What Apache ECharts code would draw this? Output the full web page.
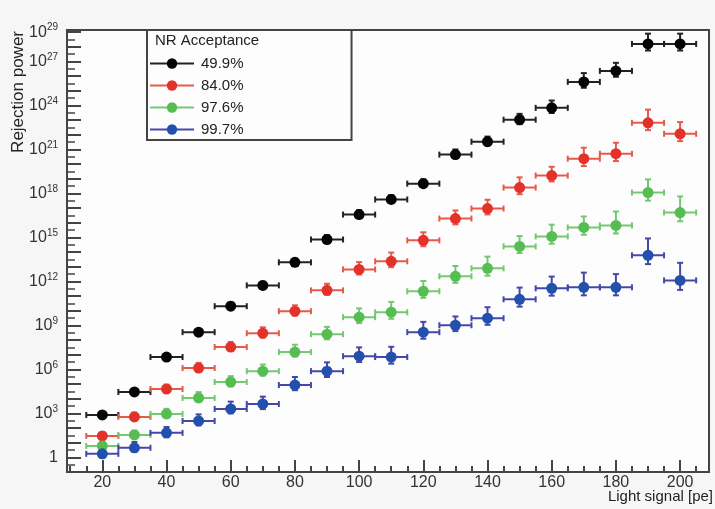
<!DOCTYPE html>
<html>
<head>
<meta charset="utf-8">
<script src="https://cdn.jsdelivr.net/npm/echarts@6/dist/echarts.min.js"></script>
<style>
  html, body { margin: 0; padding: 0; background: #f6f6f6; }
  #main { width: 715px; height: 509px; }
</style>
</head>
<body>
<div id="main"></div>
<script>
// light signal bin centres [pe]
var lightSignal = [20, 30, 40, 50, 60, 70, 80, 90, 100, 110, 120, 130, 140, 150, 160, 170, 180, 190, 200];
var seriesNames = ['49.9%', '84.0%', '97.6%', '99.7%'];

// rejection power (log10 of the value)
var rej499 = [2.89, 4.46, 6.84, 8.54, 10.31, 11.73, 13.30, 14.86, 16.56, 17.59, 18.67, 20.65, 21.53, 23.03, 23.84, 25.61, 26.36, 28.20, 28.20];
var rej840 = [1.46, 2.76, 4.66, 6.09, 7.52, 8.47, 9.97, 11.39, 12.82, 13.37, 14.80, 16.29, 16.97, 18.40, 19.22, 20.37, 20.71, 22.82, 22.07];
var rej976 = [0.78, 1.53, 2.96, 4.05, 5.14, 5.88, 7.18, 8.40, 9.56, 9.90, 11.33, 12.35, 12.89, 14.39, 15.07, 15.68, 15.82, 18.06, 16.70];
var rej997 = [0.24, 0.65, 1.67, 2.48, 3.30, 3.64, 4.93, 5.88, 6.90, 6.84, 8.54, 9.01, 9.49, 10.78, 11.53, 11.60, 11.60, 13.78, 12.07];

// upper / lower errors (decades)
var up499 = [0.2, 0.2, 0.2, 0.2, 0.25, 0.25, 0.25, 0.3, 0.3, 0.3, 0.3, 0.35, 0.35, 0.4, 0.5, 0.6, 0.55, 0.7, 0.7];
var dn499 = [0.15, 0.15, 0.15, 0.15, 0.2, 0.2, 0.2, 0.2, 0.2, 0.2, 0.2, 0.25, 0.25, 0.3, 0.35, 0.4, 0.4, 0.45, 0.45];
var up840 = [0.25, 0.3, 0.3, 0.35, 0.35, 0.4, 0.4, 0.45, 0.5, 0.6, 0.55, 0.55, 0.6, 0.7, 0.6, 0.75, 0.75, 0.9, 0.8];
var dn840 = [0.2, 0.2, 0.2, 0.25, 0.25, 0.3, 0.3, 0.3, 0.35, 0.4, 0.4, 0.4, 0.4, 0.45, 0.4, 0.5, 0.5, 0.5, 0.5];
var up976 = [0.3, 0.3, 0.35, 0.4, 0.4, 0.45, 0.5, 0.5, 0.6, 0.7, 0.7, 0.7, 0.8, 0.7, 0.8, 0.75, 0.95, 0.9, 1.1];
var dn976 = [0.2, 0.2, 0.25, 0.25, 0.3, 0.3, 0.3, 0.35, 0.4, 0.45, 0.45, 0.45, 0.5, 0.45, 0.5, 0.5, 0.55, 0.55, 0.6];
var up997 = [0.35, 0.4, 0.4, 0.45, 0.5, 0.5, 0.55, 0.6, 0.6, 0.7, 0.7, 0.6, 0.75, 0.8, 0.8, 1.0, 0.9, 1.15, 1.2];
var dn997 = [0.25, 0.25, 0.3, 0.3, 0.3, 0.35, 0.35, 0.4, 0.4, 0.45, 0.45, 0.4, 0.45, 0.5, 0.5, 0.55, 0.55, 0.6, 0.65];

var binHalfWidth = 5;
var yTickLabels = [0, 3, 6, 9, 12, 15, 18, 21, 24, 27, 29];
var xTickLabels = [20, 40, 60, 80, 100, 120, 140, 160, 180, 200];
var xMinorTicks = [];
for (var t = 10; t <= 205; t += 5) xMinorTicks.push(t);

var markerColors = ['#050505', '#e2322a', '#55bd52', '#2450ad'];
var barColors = ['#222222', '#e65a48', '#74c872', '#4448a6'];
var values = [rej499, rej840, rej976, rej997];
var ups = [up499, up840, up976, up997];
var dns = [dn499, dn840, dn976, dn997];

function errRender(params, api) {
  var x = api.value(0), y = api.value(1), up = api.value(2), dn = api.value(3);
  var l = api.coord([x - binHalfWidth, y]);
  var r = api.coord([x + binHalfWidth, y]);
  var t = api.coord([x, y + up]);
  var b = api.coord([x, y - dn]);
  var style = { stroke: api.visual('color'), lineWidth: 2 };
  var c = 3;
  return {
    type: 'group',
    children: [
      { type: 'line', shape: { x1: l[0], y1: l[1], x2: r[0], y2: r[1] }, style: style },
      { type: 'line', shape: { x1: t[0], y1: t[1], x2: b[0], y2: b[1] }, style: style },
      { type: 'line', shape: { x1: l[0], y1: l[1] - c, x2: l[0], y2: l[1] + c }, style: style },
      { type: 'line', shape: { x1: r[0], y1: r[1] - c, x2: r[0], y2: r[1] + c }, style: style },
      { type: 'line', shape: { x1: t[0] - c, y1: t[1], x2: t[0] + c, y2: t[1] }, style: style },
      { type: 'line', shape: { x1: b[0] - c, y1: b[1], x2: b[0] + c, y2: b[1] }, style: style }
    ]
  };
}

var series = [];
for (var s = 0; s < 4; s++) {
  var errData = [], ptData = [];
  for (var i = 0; i < lightSignal.length; i++) {
    errData.push([lightSignal[i], values[s][i], ups[s][i], dns[s][i]]);
    ptData.push([lightSignal[i], values[s][i]]);
  }
  series.push({
    name: 'err ' + seriesNames[s],
    type: 'custom',
    renderItem: errRender,
    itemStyle: { color: barColors[s] },
    encode: { x: 0, y: 1 },
    data: errData,
    z: 2,
    silent: true
  });
  series.push({
    name: seriesNames[s],
    type: 'line',
    data: ptData,
    symbol: 'circle',
    symbolSize: 11,
    itemStyle: { color: markerColors[s] },
    lineStyle: { width: 0, opacity: 0, color: barColors[s] },
    z: 3
  });
}

var myChart = echarts.init(document.getElementById('main'));
var option = {
  backgroundColor: '#f6f6f6',
  animation: false,
  textStyle: { fontFamily: 'Liberation Sans, Arial, sans-serif' },
  title: {
    text: 'NR Acceptance',
    left: 150, top: 28,
    textStyle: { fontSize: 15, fontWeight: 'normal', color: '#222', fontFamily: 'Liberation Sans' }
  },
  graphic: [{
    type: 'text', x: 18, y: 31, rotation: Math.PI / 2,
    style: { text: 'Rejection power', fill: '#222', font: '17px Liberation Sans', textAlign: 'right', textVerticalAlign: 'middle' }
  }, {
    type: 'text', x: 713, y: 497,
    style: { text: 'Light signal [pe]', fill: '#222', font: '15px Liberation Sans', textAlign: 'right', textVerticalAlign: 'middle' }
  }],
  legend: {
    data: seriesNames,
    orient: 'vertical',
    left: 147, top: 30,
    padding: [26, 108, 3, 2],
    itemGap: 7,
    itemWidth: 44,
    itemHeight: 13,
    borderColor: '#444',
    borderWidth: 2,
    backgroundColor: '#fdfdfd',
    lineStyle: { width: 2, opacity: 1 },
    textStyle: { fontSize: 15, color: '#222', padding: [0, 0, 0, 2], lineHeight: 13 }
  },
  grid: {
    left: 67, right: 6, top: 30, bottom: 37,
    outerBoundsMode: 'none', containLabel: false,
    show: true, borderColor: '#444', borderWidth: 2, backgroundColor: '#fdfdfd'
  },
  xAxis: [{
    type: 'value', min: 9, max: 209,
    axisLine: { onZero: false, lineStyle: { color: '#444', width: 2 } },
    axisTick: { inside: true, length: 12, customValues: xTickLabels, lineStyle: { color: '#444', width: 2 } },
    axisLabel: { customValues: xTickLabels, fontSize: 16, color: '#333', margin: 3 },
    splitLine: { show: false }
  }, {
    type: 'value', min: 9, max: 209, position: 'bottom',
    axisLine: { show: false, onZero: false },
    axisTick: { inside: true, length: 6, customValues: xMinorTicks, lineStyle: { color: '#444', width: 2 } },
    axisLabel: { show: false },
    splitLine: { show: false }
  }],
  yAxis: {
    type: 'value', min: -1, max: 29.15, interval: 1,
    axisLine: { onZero: false, lineStyle: { color: '#444', width: 2 } },
    axisTick: { inside: true, length: 14, lineStyle: { color: '#444', width: 2 } },
    minorTick: { show: true, splitNumber: 2, length: 8, lineStyle: { color: '#444', width: 1.5 } },
    axisLabel: {
      margin: 9, color: '#333',
      formatter: function (v) {
        if (yTickLabels.indexOf(v) < 0) return '';
        if (v === 0) return '{b|1}';
        return '{b|10}{s|' + v + '}';
      },
      rich: {
        b: { fontSize: 16, color: '#333' },
        s: { fontSize: 10, color: '#333', padding: [0, 0, 9, 0] }
      }
    },
    splitLine: { show: false }
  },
  series: series
};
myChart.setOption(option);
</script>
</body>
</html>
